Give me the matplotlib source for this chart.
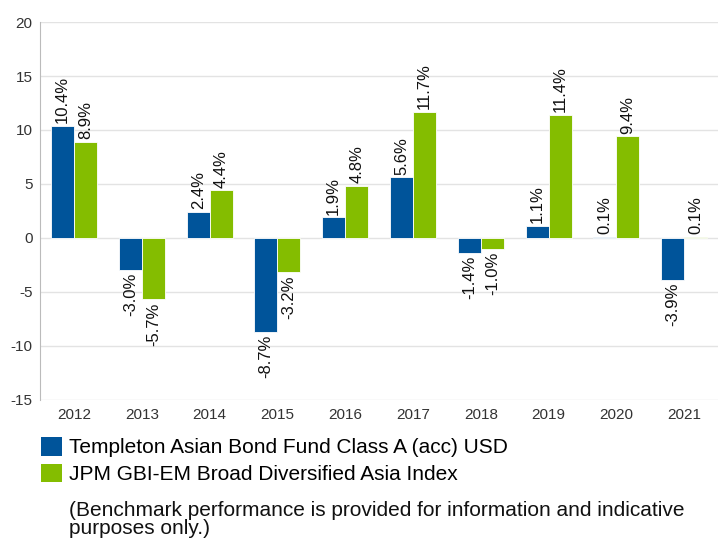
import matplotlib.pyplot as plt
import numpy as np
from matplotlib.patches import Patch

# data
YEARS = ["2012", "2013", "2014", "2015", "2016", "2017", "2018", "2019", "2020", "2021"]
FUND = [10.4, -3.0, 2.4, -8.7, 1.9, 5.6, -1.4, 1.1, 0.1, -3.9]
INDEX = [8.9, -5.7, 4.4, -3.2, 4.8, 11.7, -1.0, 11.4, 9.4, 0.1]
FUND_NAME = "Templeton Asian Bond Fund Class A (acc) USD"
INDEX_NAME = "JPM GBI-EM Broad Diversified Asia Index"
NOTE = "(Benchmark performance is provided for information and indicative\npurposes only.)"

BLUE = "#00549A"
GREEN = "#84BD00"

plt.rcParams.update({
    "font.family": ["Liberation Sans", "DejaVu Sans"],
    "axes.unicode_minus": False,
})

fig = plt.figure(figsize=(7.18, 5.38), dpi=100)
ax = fig.add_axes([0.056, 0.257, 0.944, 0.702])

x = np.arange(len(YEARS))
w = 0.34
b1 = ax.bar(x - w / 2, FUND, w, color=BLUE, edgecolor="white", linewidth=0.6, zorder=3)
b2 = ax.bar(x + w / 2, INDEX, w, color=GREEN, edgecolor="white", linewidth=0.6, zorder=3)


def label(bars, vals):
    for rect, v in zip(bars, vals):
        cx = rect.get_x() + rect.get_width() / 2
        off = 2 if v >= 0 else -2
        ax.annotate(f"{v:.1f}%", (cx, v), xytext=(0, off), textcoords="offset points",
                    rotation=90, ha="center", va="bottom" if v >= 0 else "top",
                    fontsize=12, color="#111111")


label(b1, FUND)
label(b2, INDEX)

ax.set_xlim(-0.5, len(YEARS) - 0.5)
ax.set_ylim(-15, 20)
ax.set_yticks(np.arange(-15, 21, 5))
ax.set_xticks(x)
ax.set_xticklabels(YEARS)
ax.yaxis.grid(True, color="#e3e3e3", linewidth=1, zorder=0)
ax.tick_params(axis="both", length=0, colors="#333333", labelsize=11)
ax.tick_params(axis="x", pad=6)
ax.tick_params(axis="y", pad=5.5)
for s in ["top", "right", "bottom"]:
    ax.spines[s].set_visible(False)
ax.spines["left"].set_color("#bbbbbb")

handles = [Patch(facecolor=BLUE), Patch(facecolor=GREEN)]
fig.legend(handles, [FUND_NAME, INDEX_NAME], loc="upper left",
           bbox_to_anchor=(0.057, 0.188), frameon=False,
           prop={"size": 15},
           handlelength=1.0, handleheight=1.0, handletextpad=0.34,
           labelspacing=0.3, borderaxespad=0, borderpad=0)

fig.text(0.096, 0.0, NOTE, ha="left", va="bottom", fontsize=15,
         color="#111111", linespacing=0.9)

fig.savefig("out.png", dpi=100)
